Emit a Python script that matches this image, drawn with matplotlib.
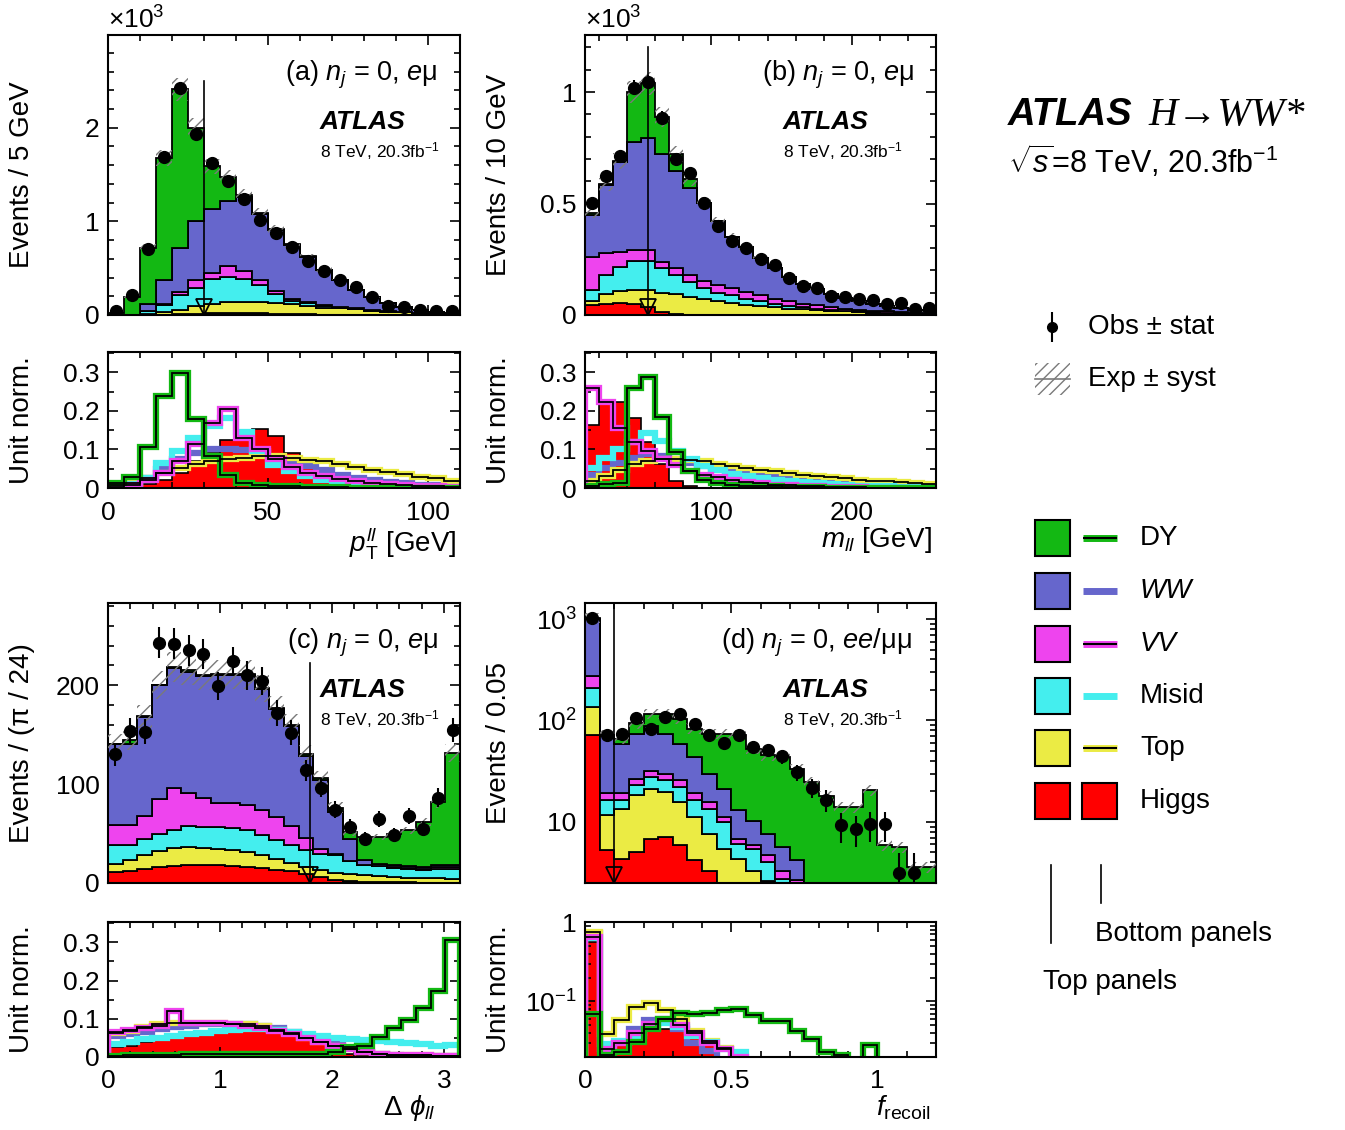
import numpy as np
import matplotlib
matplotlib.use("Agg")
import matplotlib.pyplot as plt
from matplotlib.ticker import MultipleLocator, FixedLocator, FuncFormatter, LogLocator, NullFormatter
from matplotlib.patches import Rectangle

# =========================
# 0. Settings
# =========================
plt.rcParams['font.family'] = ['Liberation Sans', 'DejaVu Sans']
plt.rcParams['mathtext.fontset'] = 'custom'
plt.rcParams['mathtext.rm'] = 'Liberation Sans'
plt.rcParams['mathtext.it'] = 'Liberation Sans:italic'
plt.rcParams['mathtext.bf'] = 'Liberation Sans:bold'
plt.rcParams['hatch.linewidth'] = 1.0

W, H = 1345, 1130
C_DY, C_WW, C_VV = '#13B813', '#6666CC', '#EE44EE'
C_MIS, C_TOP, C_H = '#44EEEE', '#EBEB44', '#FF0000'
C_HATCH = '#7A7A7A'

# =========================
# 1. Data (stack levels, bottom -> top: Higgs, Top, Misid, VV, WW, DY)
# =========================
# (a) pT_ll, 5 GeV bins, events x 10^3
a_edges = np.arange(0, 115, 5)
a_higgs = [0, 0, 0, 0.005, 0.01, 0.015, 0.02, 0.025, 0.025, 0.02, 0.015, 0.01, 0.01, 0.005, 0.005, 0.005, 0, 0, 0, 0, 0, 0]
a_top = [0, 0.002, 0.01, 0.03, 0.055, 0.10, 0.12, 0.138, 0.138, 0.138, 0.13, 0.12, 0.10, 0.08, 0.07, 0.06, 0.045, 0.035, 0.03, 0.02, 0.015, 0.01]
a_misid = [0, 0.003, 0.04, 0.11, 0.21, 0.29, 0.387, 0.404, 0.387, 0.316, 0.227, 0.149, 0.125, 0.095, 0.08, 0.065, 0.05, 0.04, 0.032, 0.022, 0.017, 0.012]
a_vv = [0, 0.004, 0.045, 0.12, 0.245, 0.37, 0.447, 0.528, 0.475, 0.369, 0.255, 0.174, 0.14, 0.105, 0.09, 0.07, 0.055, 0.045, 0.035, 0.025, 0.018, 0.013]
a_ww = [0, 0.005, 0.12, 0.37, 0.72, 1.0, 1.13, 1.22, 1.255, 1.08, 0.91, 0.75, 0.62, 0.48, 0.37, 0.27, 0.19, 0.13, 0.085, 0.05, 0.03, 0.02]
a_dy = [0.02, 0.19, 0.72, 1.68, 2.41, 2.0, 1.59, 1.47, 1.28, 1.09, 0.92, 0.755, 0.625, 0.485, 0.37, 0.27, 0.19, 0.13, 0.085, 0.05, 0.03, 0.02]
a_obs = [0.04, 0.21, 0.71, 1.69, 2.42, 1.93, 1.62, 1.43, 1.24, 1.01, 0.88, 0.73, 0.58, 0.475, 0.376, 0.30, 0.19, 0.10, 0.09, 0.05, 0.04, 0.04]

# (b) m_ll, 10 GeV bins, events x 10^3
b_edges = np.arange(10, 270, 10)
b_higgs = [0.043, 0.051, 0.055, 0.051, 0.036, 0.013, 0.003, 0.002, 0.001, 0.001, 0.001, 0, 0, 0, 0, 0, 0, 0, 0, 0, 0, 0, 0, 0, 0]
b_top = [0.061, 0.096, 0.107, 0.111, 0.111, 0.10, 0.096, 0.081, 0.073, 0.061, 0.055, 0.046, 0.04, 0.034, 0.028, 0.025, 0.022, 0.019, 0.016, 0.013, 0.011, 0.009, 0.008, 0.007, 0.006]
b_misid = [0.111, 0.179, 0.217, 0.242, 0.242, 0.209, 0.179, 0.146, 0.122, 0.10, 0.088, 0.073, 0.061, 0.051, 0.04, 0.034, 0.028, 0.024, 0.019, 0.016, 0.013, 0.011, 0.009, 0.008, 0.007]
b_vv = [0.262, 0.277, 0.284, 0.292, 0.292, 0.239, 0.209, 0.179, 0.152, 0.134, 0.119, 0.103, 0.088, 0.073, 0.061, 0.051, 0.043, 0.036, 0.028, 0.024, 0.019, 0.016, 0.013, 0.01, 0.009]
b_ww = [0.447, 0.582, 0.688, 0.774, 0.794, 0.721, 0.646, 0.571, 0.503, 0.42, 0.352, 0.307, 0.254, 0.209, 0.171, 0.141, 0.116, 0.096, 0.078, 0.061, 0.051, 0.039, 0.031, 0.024, 0.016]
b_dy = [0.457, 0.586, 0.69, 1.0, 1.04, 0.887, 0.724, 0.608, 0.503, 0.42, 0.352, 0.307, 0.254, 0.209, 0.171, 0.141, 0.116, 0.096, 0.078, 0.061, 0.051, 0.039, 0.031, 0.024, 0.016]
b_obs = [0.503, 0.623, 0.714, 1.02, 1.045, 0.884, 0.699, 0.638, 0.503, 0.397, 0.333, 0.30, 0.251, 0.224, 0.167, 0.131, 0.119, 0.085, 0.081, 0.074, 0.066, 0.051, 0.055, 0.028, 0.031]

# (c) delta phi_ll, pi/24 bins, events
c_edges = np.linspace(0, np.pi, 25)
c_higgs = [11.1, 12.1, 14.5, 16.2, 17.2, 17.9, 17.9, 17.9, 17.2, 16.2, 15.2, 13.5, 12.1, 9.4, 6.1, 3.4, 2.0, 1.5, 1.0, 0.8, 0.6, 0.5, 0.4, 0.3]
c_top = [19.6, 22.9, 28.0, 32.4, 35.8, 36.4, 35.8, 34.7, 33.0, 31.4, 28.0, 24.6, 20.2, 16.2, 12.8, 10.1, 8.8, 7.8, 6.7, 6.1, 5.4, 5.1, 4.7, 4.4]
c_misid = [38.1, 38.1, 44.9, 49.9, 54.0, 57.7, 56.7, 56.7, 55.6, 53.3, 48.2, 43.2, 38.1, 33.7, 29.7, 28.0, 21.9, 17.9, 16.9, 15.5, 14.5, 12.8, 14.5, 14.5]
c_vv = [58.3, 58.3, 67.5, 85.3, 96.1, 91.0, 86.3, 81.3, 81.3, 78.6, 73.5, 66.8, 57.3, 45.9, 34.7, 29.0, 21.9, 17.9, 17.2, 16.2, 15.2, 14.5, 16.2, 16.2]
c_ww = [140.3, 140.3, 168.0, 200.0, 216.9, 213.5, 209.0, 210.0, 210.0, 210.0, 195.6, 175.4, 158.5, 128.2, 103.9, 71.8, 44.9, 22.9, 19.6, 18.2, 17.0, 16.0, 17.8, 17.8]
c_dy = [140.3, 145.0, 168.6, 200.0, 218.5, 215.2, 210.0, 211.0, 211.0, 211.0, 196.6, 176.4, 159.5, 130.2, 106.2, 76.2, 51.6, 46.5, 46.5, 49.9, 53.3, 61.7, 82.0, 131.5]
c_obs = [130, 154, 153, 243, 242, 235, 231, 199, 224, 210, 204, 172, 152, 114, 96.5, 74.2, 56.7, 44.9, 65.1, 48.2, 67.5, 55, 86.3, 154.5]

# (d) f_recoil, 0.05 bins, events (log)
d_edges = np.linspace(0, 1.2, 25)
d_higgs = [71.5, 5.31, 4.33, 5.03, 6.82, 7.09, 5.86, 4.17, 3.3, 0.5, 0.5, 0.5, 0.5, 0.5, 0.5, 0.5, 0.5, 0.5, 0.5, 0.5, 0.5, 0.5, 0.5, 0.5]
d_top = [136, 11.6, 13.5, 18.3, 21.3, 19.7, 15.7, 11.2, 7.64, 5.43, 4.33, 3.3, 2.6, 1.5, 1.0, 0.8, 0.6, 0.5, 0.5, 0.5, 0.5, 0.5, 0.5, 0.5]
d_misid = [211, 16.6, 16.6, 23.3, 27.7, 25.7, 22.1, 16.6, 13.5, 9.96, 6.09, 5.43, 4.01, 2.76, 2.0, 1.0, 0.8, 0.6, 0.5, 0.5, 0.5, 0.5, 0.5, 0.5]
d_vv = [274, 19.3, 19.3, 26.7, 31.8, 29.4, 25.7, 19.3, 15.7, 11.3, 6.82, 5.9, 4.67, 3.27, 2.7, 1.0, 0.8, 0.6, 0.5, 0.5, 0.5, 0.5, 0.5, 0.5]
d_ww = [1010, 71, 59.2, 74.3, 87.7, 74.3, 59.2, 43.7, 29.9, 21.3, 13.0, 10.3, 7.64, 5.64, 4.17, 1.0, 0.8, 0.6, 0.5, 0.5, 0.5, 0.5, 0.5, 0.5]
d_dy = [1030, 72, 66.2, 94.6, 117, 117, 104, 83, 74.3, 74.3, 71.5, 52.8, 45.4, 43.8, 33.5, 24.7, 18, 14, 14, 20.5, 5.86, 5.64, 3.58, 3.58]
d_obs = [1016, 71.5, 72.8, 107, 83.2, 108.6, 117, 91.6, 71.5, 60.2, 71.5, 54.9, 50.8, 44.3, 31.0, 21.8, 16.6, 9.24, 8.57, 9.45, 9.45, 3.13, 3.13, 0]

# unit-normalised shapes (bottom panels)
na_higgs = [0.0, 0.003, 0.01, 0.02, 0.04, 0.07, 0.092, 0.125, 0.138, 0.152, 0.134, 0.09, 0.056, 0.025, 0.01, 0.005, 0.003, 0.002, 0.001, 0, 0, 0]
na_top = [0.007, 0.013, 0.026, 0.04, 0.053, 0.062, 0.07, 0.075, 0.079, 0.082, 0.082, 0.078, 0.073, 0.069, 0.062, 0.055, 0.048, 0.041, 0.037, 0.028, 0.025, 0.019]
na_misid = [0.005, 0.01, 0.026, 0.065, 0.096, 0.131, 0.16, 0.182, 0.146, 0.096, 0.06, 0.045, 0.032, 0.022, 0.015, 0.011, 0.008, 0.006, 0.005, 0.004, 0.003, 0.002]
na_vv = [0.003, 0.008, 0.02, 0.04, 0.07, 0.115, 0.168, 0.205, 0.13, 0.1, 0.075, 0.055, 0.04, 0.03, 0.024, 0.018, 0.013, 0.01, 0.007, 0.005, 0.004, 0.003]
na_ww = [0.002, 0.008, 0.025, 0.05, 0.074, 0.092, 0.1, 0.1, 0.098, 0.09, 0.08, 0.068, 0.058, 0.048, 0.035, 0.027, 0.021, 0.016, 0.012, 0.009, 0.007, 0.005]
na_dy = [0.012, 0.028, 0.107, 0.239, 0.299, 0.18, 0.082, 0.033, 0.012, 0.008, 0.005, 0.004, 0.003, 0.002, 0.002, 0.001, 0.001, 0.001, 0, 0, 0, 0]

nb_higgs = [0.163, 0.222, 0.222, 0.181, 0.119, 0.062, 0.018, 0.004, 0, 0, 0, 0, 0, 0, 0, 0, 0, 0, 0, 0, 0, 0, 0, 0, 0]
nb_top = [0.018, 0.031, 0.048, 0.062, 0.07, 0.075, 0.075, 0.072, 0.069, 0.063, 0.058, 0.053, 0.048, 0.044, 0.04, 0.035, 0.031, 0.028, 0.025, 0.022, 0.019, 0.018, 0.015, 0.013, 0.011]
nb_misid = [0.053, 0.079, 0.101, 0.119, 0.143, 0.123, 0.097, 0.075, 0.057, 0.046, 0.037, 0.031, 0.026, 0.022, 0.018, 0.015, 0.012, 0.01, 0.008, 0.006, 0.005, 0.004, 0.003, 0.003, 0.002]
nb_vv = [0.26, 0.222, 0.157, 0.12, 0.095, 0.075, 0.06, 0.045, 0.035, 0.028, 0.022, 0.016, 0.012, 0.009, 0.007, 0.005, 0.004, 0.003, 0.002, 0.002, 0.001, 0.001, 0.001, 0.001, 0.001]
nb_ww = [0.035, 0.053, 0.066, 0.079, 0.088, 0.084, 0.075, 0.066, 0.057, 0.05, 0.044, 0.038, 0.033, 0.028, 0.024, 0.02, 0.018, 0.015, 0.012, 0.011, 0.009, 0.008, 0.007, 0.006, 0.005]
nb_dy = [0.005, 0.01, 0.013, 0.26, 0.287, 0.183, 0.093, 0.045, 0.02, 0.012, 0.008, 0.006, 0.005, 0.004, 0.003, 0.002, 0.002, 0.001, 0.001, 0.001, 0.001, 0, 0, 0, 0]

nc_higgs = [0.025, 0.03, 0.04, 0.05, 0.058, 0.064, 0.068, 0.072, 0.075, 0.078, 0.078, 0.076, 0.065, 0.05, 0.033, 0.018, 0.008, 0.004, 0.002, 0.001, 0, 0, 0, 0]
nc_top = [0.064, 0.068, 0.078, 0.087, 0.088, 0.09, 0.09, 0.089, 0.087, 0.085, 0.08, 0.07, 0.062, 0.05, 0.04, 0.03, 0.02, 0.013, 0.009, 0.006, 0.005, 0.004, 0.003, 0.003]
nc_misid = [0.033, 0.04, 0.046, 0.05, 0.055, 0.06, 0.063, 0.067, 0.07, 0.072, 0.072, 0.07, 0.066, 0.06, 0.055, 0.05, 0.046, 0.044, 0.043, 0.04, 0.037, 0.033, 0.028, 0.031]
nc_vv = [0.065, 0.07, 0.075, 0.082, 0.12, 0.09, 0.09, 0.088, 0.085, 0.08, 0.075, 0.068, 0.06, 0.05, 0.04, 0.03, 0.02, 0.012, 0.008, 0.006, 0.005, 0.004, 0.003, 0.003]
nc_ww = [0.055, 0.06, 0.066, 0.072, 0.078, 0.082, 0.085, 0.087, 0.087, 0.085, 0.082, 0.075, 0.066, 0.056, 0.045, 0.034, 0.023, 0.014, 0.008, 0.005, 0.003, 0.002, 0.002, 0.002]
nc_dy = [0.003, 0.004, 0.005, 0.006, 0.006, 0.007, 0.007, 0.007, 0.007, 0.007, 0.007, 0.007, 0.007, 0.008, 0.008, 0.012, 0.026, 0.029, 0.052, 0.077, 0.098, 0.129, 0.172, 0.305]

nd_higgs = [0.56, 0.025, 0.03, 0.035, 0.042, 0.045, 0.043, 0.035, 0.028, 0.015, 0.005, 0, 0, 0, 0, 0, 0, 0, 0, 0, 0, 0, 0, 0]
nd_top = [0.75, 0.039, 0.058, 0.086, 0.095, 0.078, 0.061, 0.043, 0.032, 0.026, 0.015, 0.01, 0.005, 0.003, 0.002, 0.001, 0, 0, 0, 0, 0, 0, 0, 0]
nd_misid = [0.62, 0.029, 0.032, 0.037, 0.048, 0.053, 0.048, 0.037, 0.031, 0.025, 0.023, 0.01, 0.005, 0, 0, 0, 0, 0, 0, 0, 0, 0, 0, 0]
nd_vv = [0.65, 0.025, 0.03, 0.04, 0.052, 0.06, 0.05, 0.04, 0.03, 0.025, 0.02, 0.01, 0.005, 0, 0, 0, 0, 0, 0, 0, 0, 0, 0, 0]
nd_ww = [0.72, 0.024, 0.03, 0.045, 0.058, 0.055, 0.045, 0.03, 0.024, 0.018, 0.01, 0.005, 0.002, 0, 0, 0, 0, 0, 0, 0, 0, 0, 0, 0]
nd_dy = [0.07, 0.021, 0.023, 0.031, 0.045, 0.06, 0.072, 0.07, 0.072, 0.078, 0.08, 0.067, 0.056, 0.056, 0.043, 0.034, 0.023, 0.021, 0.005, 0.028, 0.005, 0, 0, 0]

# relative systematic used for the hatched band
SYST_A, SYST_B, SYST_C, SYST_D = 0.05, 0.05, 0.07, 0.12


# =========================
# 2. Helpers
# =========================
def add_px_axes(fig, x0, y0, x1, y1):
    return fig.add_axes([x0 / W, 1 - y1 / H, (x1 - x0) / W, (y1 - y0) / H])


def style(ax):
    ax.tick_params(which='both', direction='in', top=True, right=True, labelsize=19, width=1.2)
    ax.tick_params(which='major', length=7.5)
    ax.tick_params(which='minor', length=4)
    ax.tick_params(axis='x', pad=9)
    ax.tick_params(axis='y', pad=6)
    for s in ax.spines.values():
        s.set_linewidth(1.5)


def draw_stack(ax, edges, levels, obs, rel, err_scale=1.0, floor=0.0):
    colors = [C_H, C_TOP, C_MIS, C_VV, C_WW, C_DY]
    lower = np.full(len(edges) - 1, floor)
    for lev, col in zip(levels, colors):
        lev = np.maximum(np.asarray(lev, float), lower)
        ax.stairs(lev, edges, baseline=lower, fill=True, facecolor=col,
                  edgecolor='black', lw=1.3, zorder=2)
        lower = lev
    ax.stairs(lower * (1 + rel), edges, baseline=lower * (1 - rel), fill=True,
              facecolor='none', edgecolor=C_HATCH, hatch='///', lw=0, zorder=3)
    obs = np.asarray(obs, float)
    cen = 0.5 * (edges[1:] + edges[:-1])
    m = obs > 0
    err = np.sqrt(obs[m] * err_scale) / err_scale
    ax.errorbar(cen[m], obs[m], yerr=err, fmt='o', color='black', ms=8.5,
                elinewidth=1.5, capsize=0, zorder=5)


def draw_norm(ax, edges, higgs, top, misid, vv, ww, dy, floor=0.0):
    def c(v):
        return np.maximum(np.asarray(v, float), floor) if floor else np.asarray(v, float)
    ax.stairs(c(higgs), edges, baseline=floor, fill=True, facecolor=C_H,
              edgecolor='black', lw=1.2, zorder=1)
    ax.stairs(c(ww), edges, baseline=floor, color=C_WW, lw=4.5, zorder=2)
    ax.stairs(c(top), edges, baseline=floor, color=C_TOP, lw=4.5, zorder=2)
    ax.stairs(c(misid), edges, baseline=floor, color=C_MIS, lw=4.5, zorder=2)
    ax.stairs(c(vv), edges, baseline=floor, color=C_VV, lw=4.5, zorder=2)
    ax.stairs(c(dy), edges, baseline=floor, color=C_DY, lw=4.5, zorder=2)
    for v in (top, vv, dy):
        ax.stairs(c(v), edges, baseline=floor, color='black', lw=1.3, zorder=3)


def cut(ax, x, ytop, ytri):
    ax.plot([x, x], [ax.get_ylim()[0], ytop], color='black', lw=1.2, zorder=6)
    ax.plot([x], [ytri], marker='v', ms=11, mfc='none', mec='black', mew=1.3, zorder=6)


def tags(ax, tag, xtag, xatl):
    ax.text(xtag, 0.857, tag, transform=ax.transAxes, ha='right', va='center', fontsize=19.5, zorder=7)
    ax.text(xatl, 0.689, 'ATLAS', transform=ax.transAxes, va='center', fontsize=19,
            fontweight='bold', style='italic', zorder=7)
    ax.text(xatl, 0.586, r'8 TeV, 20.3fb$^{-1}$', transform=ax.transAxes, va='center',
            fontsize=12.5, zorder=7)


gfmt = FuncFormatter(lambda v, p: '0' if v == 0 else f'{v:g}')

# =========================
# 3. Figure
# =========================
fig = plt.figure(figsize=(W / 100, H / 100), dpi=100)
ax_a = add_px_axes(fig, 108, 35, 460, 315)
ax_a2 = add_px_axes(fig, 108, 352, 460, 488)
ax_b = add_px_axes(fig, 585, 35, 936, 315)
ax_b2 = add_px_axes(fig, 585, 352, 936, 488)
ax_c = add_px_axes(fig, 108, 603, 460, 883)
ax_c2 = add_px_axes(fig, 108, 922, 460, 1057)
ax_d = add_px_axes(fig, 585, 603, 936, 883)
ax_d2 = add_px_axes(fig, 585, 922, 936, 1057)

# ---- (a)
ax_a.set_xlim(0, 110); ax_a.set_ylim(0, 2.99)
draw_stack(ax_a, a_edges, [a_higgs, a_top, a_misid, a_vv, a_ww, a_dy], a_obs, SYST_A, err_scale=1000)
cut(ax_a, 30, 2.5, 0.085)
tags(ax_a, r'(a) $n_j$ = 0, $e$μ', 0.9375, 0.602)
ax_a.yaxis.set_major_locator(MultipleLocator(1)); ax_a.yaxis.set_minor_locator(MultipleLocator(0.2))
ax_a.yaxis.set_major_formatter(gfmt)
ax_a.text(0, 1.005, r'$\times$10$^{3}$', transform=ax_a.transAxes, ha='left', va='bottom', fontsize=19)
ax_a.set_ylabel('Events / 5 GeV', fontsize=20, va='center')

ax_a2.set_xlim(0, 110); ax_a2.set_ylim(0, 0.353)
draw_norm(ax_a2, a_edges, na_higgs, na_top, na_misid, na_vv, na_ww, na_dy)
ax_a2.set_ylabel('Unit norm.', fontsize=20, va='center')
ax_a2.set_xlabel(r'$p_{\mathrm{T}}^{ll}$ [GeV]', fontsize=20, ha='right')
ax_a2.xaxis.set_label_coords(0.99, -0.27)
for ax in (ax_a, ax_a2):
    ax.xaxis.set_major_locator(MultipleLocator(50)); ax.xaxis.set_minor_locator(MultipleLocator(10))

# ---- (b)
ax_b.set_xlim(10, 260); ax_b.set_ylim(0, 1.256)
draw_stack(ax_b, b_edges, [b_higgs, b_top, b_misid, b_vv, b_ww, b_dy], b_obs, SYST_B, err_scale=1000)
cut(ax_b, 55, 1.2, 0.036)
tags(ax_b, r'(b) $n_j$ = 0, $e$μ', 0.94, 0.564)
ax_b.yaxis.set_major_locator(MultipleLocator(0.5)); ax_b.yaxis.set_minor_locator(MultipleLocator(0.1))
ax_b.yaxis.set_major_formatter(gfmt)
ax_b.text(0, 1.005, r'$\times$10$^{3}$', transform=ax_b.transAxes, ha='left', va='bottom', fontsize=19)
ax_b.set_ylabel('Events / 10 GeV', fontsize=20, va='center')

ax_b2.set_xlim(10, 260); ax_b2.set_ylim(0, 0.353)
draw_norm(ax_b2, b_edges, nb_higgs, nb_top, nb_misid, nb_vv, nb_ww, nb_dy)
ax_b2.set_ylabel('Unit norm.', fontsize=20, va='center')
ax_b2.set_xlabel(r'$m_{ll}$ [GeV]', fontsize=20, ha='right')
ax_b2.xaxis.set_label_coords(0.99, -0.27)
for ax in (ax_b, ax_b2):
    ax.xaxis.set_major_locator(MultipleLocator(100)); ax.xaxis.set_minor_locator(MultipleLocator(20))

# ---- (c)
ax_c.set_xlim(0, np.pi); ax_c.set_ylim(0, 283)
draw_stack(ax_c, c_edges, [c_higgs, c_top, c_misid, c_vv, c_ww, c_dy], c_obs, SYST_C)
cut(ax_c, 1.8, 222, 8)
tags(ax_c, r'(c) $n_j$ = 0, $e$μ', 0.9375, 0.602)
ax_c.yaxis.set_major_locator(MultipleLocator(100)); ax_c.yaxis.set_minor_locator(MultipleLocator(20))
ax_c.set_ylabel('Events / (π / 24)', fontsize=20, va='center')

ax_c2.set_xlim(0, np.pi); ax_c2.set_ylim(0, 0.353)
draw_norm(ax_c2, c_edges, nc_higgs, nc_top, nc_misid, nc_vv, nc_ww, nc_dy)
ax_c2.set_ylabel('Unit norm.', fontsize=20, va='center')
ax_c2.set_xlabel(r'$\Delta\ \phi_{ll}$', fontsize=20, ha='right')
ax_c2.xaxis.set_label_coords(0.93, -0.27)
for ax in (ax_c, ax_c2):
    ax.xaxis.set_major_locator(MultipleLocator(1)); ax.xaxis.set_minor_locator(MultipleLocator(0.2))

# ---- (d)
ax_d.set_yscale('log')
ax_d.set_xlim(0, 1.2); ax_d.set_ylim(2.5, 1440)
draw_stack(ax_d, d_edges, [d_higgs, d_top, d_misid, d_vv, d_ww, d_dy], d_obs, SYST_D, floor=0.01)
cut(ax_d, 0.1, 1440, 3.0)
tags(ax_d, r'(d) $n_j$ = 0, $ee$/μμ', 0.932, 0.564)
ax_d.yaxis.set_major_locator(FixedLocator([10, 100, 1000]))
ax_d.yaxis.set_major_formatter(FuncFormatter(
    lambda v, p: '10' if abs(v - 10) < 1e-6 else r'10$^{%d}$' % round(np.log10(v))))
ax_d.yaxis.set_minor_locator(LogLocator(base=10, subs=np.arange(2, 10)))
ax_d.yaxis.set_minor_formatter(NullFormatter())
ax_d.set_ylabel('Events / 0.05', fontsize=20, va='center')

ax_d2.set_yscale('log')
ax_d2.set_xlim(0, 1.2); ax_d2.set_ylim(0.02, 1.0)
draw_norm(ax_d2, d_edges, nd_higgs, nd_top, nd_misid, nd_vv, nd_ww, nd_dy, floor=1e-3)
ax_d2.yaxis.set_major_locator(FixedLocator([0.1, 1]))
ax_d2.yaxis.set_major_formatter(FuncFormatter(lambda v, p: '1' if v >= 0.99 else r'10$^{-1}$'))
ax_d2.yaxis.set_minor_locator(LogLocator(base=10, subs=np.arange(2, 10)))
ax_d2.yaxis.set_minor_formatter(NullFormatter())
ax_d2.set_ylabel('Unit norm.', fontsize=20, va='center')
ax_d2.set_xlabel(r'$f_{\mathrm{recoil}}$', fontsize=20, ha='right')
ax_d2.xaxis.set_label_coords(0.985, -0.27)
for ax in (ax_d, ax_d2):
    ax.xaxis.set_major_locator(MultipleLocator(0.5)); ax.xaxis.set_minor_locator(MultipleLocator(0.1))
    ax.xaxis.set_major_formatter(gfmt)

for ax in (ax_a, ax_b, ax_c, ax_d):
    style(ax)
    ax.tick_params(labelbottom=False)
    ax.yaxis.set_label_coords(-0.245, 0.5)
for ax in (ax_a2, ax_b2, ax_c2, ax_d2):
    style(ax)
    ax.yaxis.set_label_coords(-0.245, 0.5)
for ax in (ax_a2, ax_b2, ax_c2):
    ax.yaxis.set_major_locator(MultipleLocator(0.1)); ax.yaxis.set_minor_locator(MultipleLocator(0.05))
    ax.yaxis.set_major_formatter(gfmt)

# =========================
# 4. Legend column (pixel coordinates)
# =========================
lg = add_px_axes(fig, 1000, 0, 1345, 1130)
lg.set_xlim(1000, 1345); lg.set_ylim(1130, 0); lg.axis('off')

lg.text(1008, 115, 'ATLAS', fontsize=27.5, fontweight='bold', style='italic', va='center')
lg.text(1148, 115, 'H→WW*', fontsize=29, style='italic', va='center',
        family=['Liberation Serif', 'DejaVu Serif'])
lg.text(1008, 162, r'$\sqrt{s}$=8 TeV, 20.3fb$^{-1}$', fontsize=22, va='center')

lg.errorbar([1052], [327], yerr=[15], fmt='o', color='black', ms=7, elinewidth=1.5, capsize=0)
lg.text(1088, 327, 'Obs ± stat', fontsize=20, va='center')
lg.add_patch(Rectangle((1035, 363), 35, 32, facecolor='none', edgecolor=C_HATCH, hatch='///', lw=0))
lg.plot([1035, 1070], [379, 379], color=C_HATCH, lw=1.2)
lg.text(1088, 379, 'Exp ± syst', fontsize=20, va='center')

leg_labels = ['DY', 'WW', 'VV', 'Misid', 'Top', 'Higgs']
leg_colors = [C_DY, C_WW, C_VV, C_MIS, C_TOP, C_H]
leg_black = [True, False, True, False, True, None]
leg_y = [538, 591, 644, 696, 748, 801]
for lab, col, blk, yc in zip(leg_labels, leg_colors, leg_black, leg_y):
    lg.add_patch(Rectangle((1035, yc - 18), 35, 36, facecolor=col, edgecolor='black', lw=1.5))
    if blk is None:
        lg.add_patch(Rectangle((1082, yc - 18), 35, 36, facecolor=col, edgecolor='black', lw=1.5))
    else:
        lg.plot([1083, 1117], [yc, yc], color=col, lw=5, solid_capstyle='butt')
        if blk:
            lg.plot([1083, 1117], [yc, yc], color='black', lw=1.5, solid_capstyle='butt')
    lg.text(1140, yc, lab, fontsize=20, va='center',
            style='italic' if lab in ('WW', 'VV') else 'normal')

lg.plot([1051, 1051], [865, 943], color='black', lw=1.2)
lg.plot([1101, 1101], [865, 903], color='black', lw=1.2)
lg.text(1095, 934, 'Bottom panels', fontsize=20, va='center')
lg.text(1043, 982, 'Top panels', fontsize=20, va='center')

fig.savefig('out.png', dpi=100)
